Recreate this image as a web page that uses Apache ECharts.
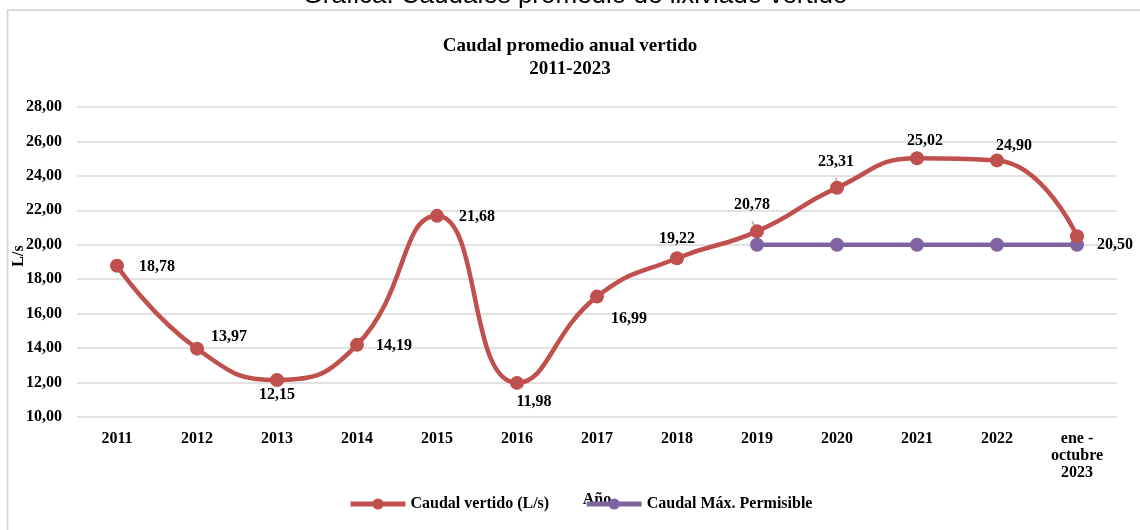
<!DOCTYPE html>
<html>
<head>
<meta charset="utf-8">
<style>html,body{margin:0;padding:0;background:#fff;}#c{width:1140px;height:530px;}</style>
<script src="https://cdn.jsdelivr.net/npm/echarts@6/dist/echarts.min.js"></script>
</head>
<body>
<div id="c"></div>
<script>
const categories = ['2011','2012','2013','2014','2015','2016','2017','2018','2019','2020','2021','2022','ene -\noctubre\n2023'];
const caudalVertido = [18.78,13.97,12.15,14.19,21.68,11.98,16.99,19.22,20.78,23.31,25.02,24.90,20.50];
const caudalMaximo = [null,null,null,null,null,null,null,null,20,20,20,20,20];
const yTicks = {min:10, max:28, interval:2};

// label placement per point (style only)
const labelPlace = [
  {position:'right', distance:15, offset:[0,1]},
  {position:'right', distance:7, offset:[0,-12]},
  {position:'bottom', distance:0, offset:[0,0]},
  {position:'right', distance:12, offset:[0,1]},
  {position:'right', distance:15, offset:[0,1]},
  {position:'bottom', distance:4, offset:[17,0]},
  {position:'right', distance:7, offset:[0,22]},
  {position:'top', distance:4, offset:[0,0]},
  {position:'top', distance:11, offset:[-5,0], line:true},
  {position:'top', distance:11, offset:[-1,0], line:true},
  {position:'top', distance:2, offset:[8,0]},
  {position:'top', distance:0, offset:[17,0]},
  {position:'right', distance:13, offset:[0,9]}
];

const FONT = "'Liberation Serif','Times New Roman',serif";
const fmt = v => v.toFixed(2).replace('.', ',');

const chart = echarts.init(document.getElementById('c'));
chart.setOption({
  animation:false,
  backgroundColor:'#fff',
  textStyle:{fontFamily:FONT},
  title:{
    text:'Caudal promedio anual vertido\n2011-2023',
    left:'center', top:30,
    textStyle:{fontFamily:FONT, fontWeight:'bold', fontSize:19, color:'#000', lineHeight:23}
  },
  graphic:[
    {type:'rect', shape:{x:7.5,y:10,width:1200,height:600}, style:{fill:'none', stroke:'#d9d9d9', lineWidth:2}, z:-10},
    {type:'text', x:575, y:9, style:{text:'Gráfica. Caudales promedio de lixiviado vertido', fontFamily:"'Liberation Sans',Arial,sans-serif", fontSize:26, fill:'#000', align:'center', verticalAlign:'bottom'}},
    {type:'text', x:19, y:256, rotation:Math.PI/2, style:{text:'L/s', fontFamily:FONT, fontWeight:'bold', fontSize:16, fill:'#000', align:'center', verticalAlign:'middle'}}
  ],
  legend:{
    bottom:13, left:343, itemGap:35, itemWidth:55, itemHeight:14,
    lineStyle:{width:5},
    textStyle:{fontFamily:FONT, fontWeight:'bold', fontSize:16, color:'#000'},
    data:['Caudal vertido (L/s)','Caudal Máx. Permisible'],
    z:10
  },
  grid:{left:77, right:23, top:107, bottom:113, outerBoundsMode:'none', containLabel:false},
  xAxis:{
    type:'category', data:categories, boundaryGap:true,
    name:'Año', nameLocation:'middle', nameGap:75, nameMoveOverlap:false,
    nameTextStyle:{fontFamily:FONT, fontWeight:'bold', fontSize:16, color:'#000'},
    axisLine:{show:false}, axisTick:{show:false},
    axisLabel:{fontFamily:FONT, fontWeight:'bold', fontSize:16, color:'#000', margin:13, lineHeight:17, interval:0}
  },
  yAxis:{
    type:'value', min:yTicks.min, max:yTicks.max, interval:yTicks.interval,
    axisLine:{show:false}, axisTick:{show:false},
    axisLabel:{fontFamily:FONT, fontWeight:'bold', fontSize:16, color:'#000', margin:15, formatter:v=>fmt(v)},
    splitLine:{lineStyle:{color:'#d9d9d9', width:1.5}}
  },
  series:[
    {
      name:'Caudal vertido (L/s)', type:'line', smooth:0.5,
      data:caudalVertido.map((v,i)=>({
        value:v,
        label:{position:labelPlace[i].position, distance:labelPlace[i].distance, offset:labelPlace[i].offset},
        labelLine: labelPlace[i].line ? {show:true, lineStyle:{color:'#a6a6a6', width:1.5}} : {show:false}
      })),
      symbol:'circle', symbolSize:14,
      lineStyle:{color:'#C0504D', width:4.5},
      itemStyle:{color:'#C0504D'},
      label:{show:true, formatter:p=>fmt(p.value), fontFamily:FONT, fontWeight:'bold', fontSize:16, color:'#000'},
      z:3
    },
    {
      name:'Caudal Máx. Permisible', type:'line',
      data:caudalMaximo,
      symbol:'circle', symbolSize:14,
      lineStyle:{color:'#8064A2', width:4.5},
      itemStyle:{color:'#8064A2'},
      z:2
    }
  ]
});
</script>
</body>
</html>
